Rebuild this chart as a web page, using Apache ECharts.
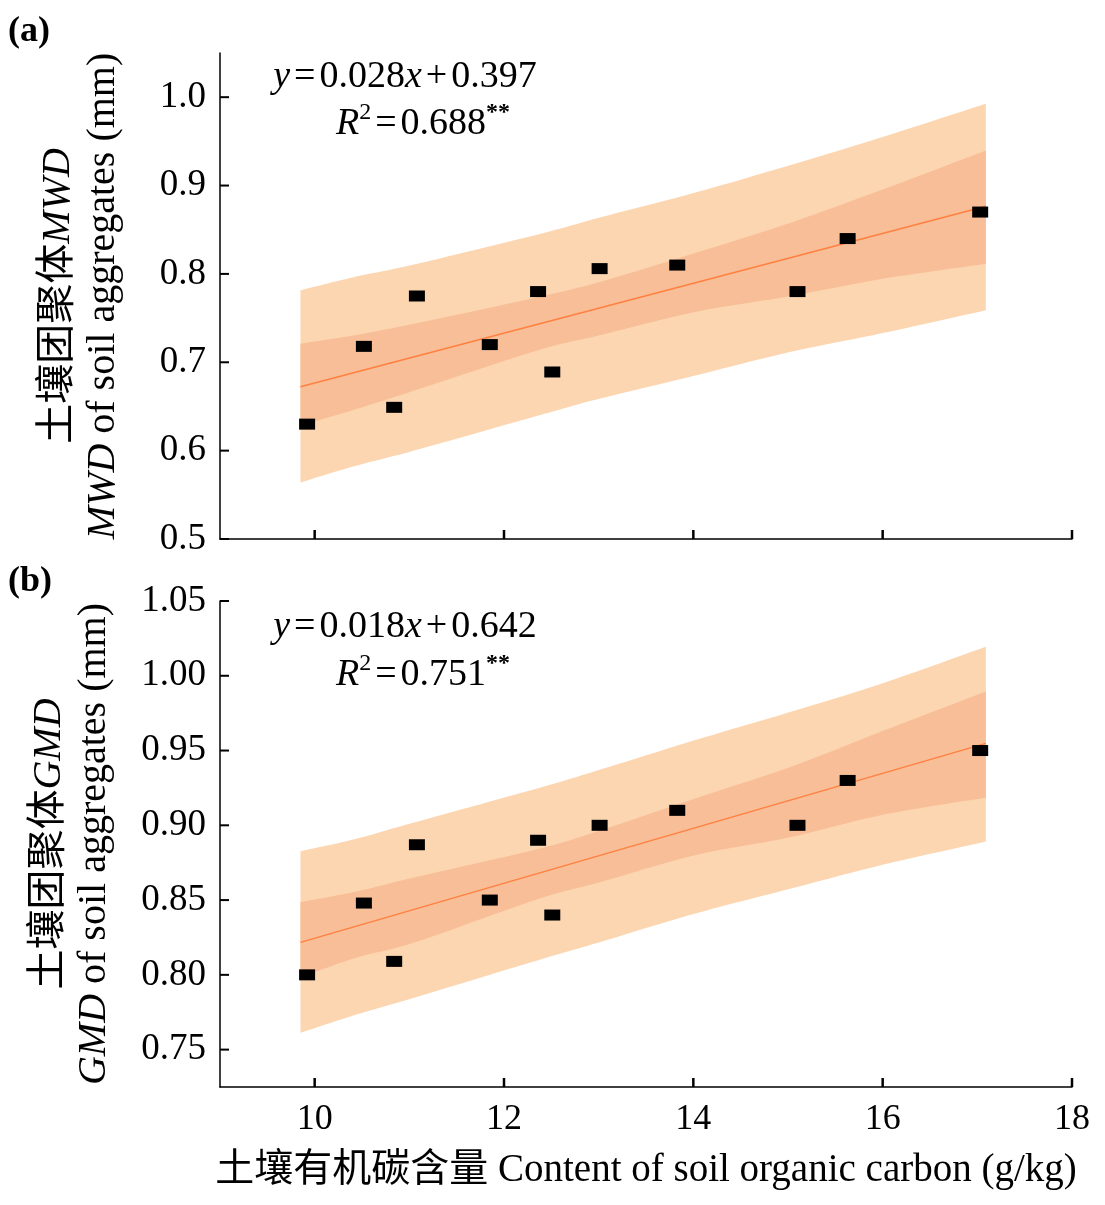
<!DOCTYPE html>
<html>
<head>
<meta charset="utf-8">
<script src="https://cdn.jsdelivr.net/npm/echarts@6/dist/echarts.min.js"></script>
<style>html,body{margin:0;padding:0;background:#fff}#c{width:1105px;height:1205px}</style>
</head>
<body>
<div id="c"></div>
<script>
// ---- data ----
const xTicks = [10, 12, 14, 16, 18];
const yTicksA = [0.5, 0.6, 0.7, 0.8, 0.9, 1.0];
const yTicksB = [0.75, 0.80, 0.85, 0.90, 0.95, 1.00, 1.05];

const socX = [9.92, 10.52, 10.84, 11.08, 11.85, 12.36, 12.51, 13.01, 13.83, 15.10, 15.63, 17.03];
const mwd  = [0.630, 0.718, 0.649, 0.775, 0.720, 0.780, 0.689, 0.806, 0.810, 0.780, 0.840, 0.870];
const gmd  = [0.800, 0.848, 0.809, 0.887, 0.850, 0.890, 0.840, 0.900, 0.910, 0.900, 0.930, 0.950];

const bandX = [9.85, 10.44, 11.06, 12.37, 13.01, 14.02, 15.02, 16.0, 17.09];
const mwdPredUp = [0.7815, 0.797, 0.8109, 0.845, 0.8638, 0.892, 0.923, 0.955, 0.9926];
const mwdPredLo = [0.564, 0.583, 0.6003, 0.640, 0.6588, 0.685, 0.7116, 0.733, 0.7588];
const mwdConfUp = [0.721, 0.731, 0.7438, 0.774, 0.7909, 0.8236, 0.8577, 0.8955, 0.9396];
const mwdConfLo = [0.6286, 0.647, 0.6682, 0.714, 0.7305, 0.757, 0.7747, 0.7945, 0.8114];

const gmdPredUp = [0.8827, 0.891, 0.9021, 0.925, 0.9371, 0.957, 0.9757, 0.995, 1.0194];
const gmdPredLo = [0.7612, 0.7734, 0.7849, 0.810, 0.8218, 0.841, 0.8575, 0.8736, 0.8891];
const gmdConfUp = [0.8487, 0.8557, 0.8653, 0.8843, 0.8965, 0.918, 0.9389, 0.963, 0.9895];
const gmdConfLo = [0.7983, 0.8115, 0.8218, 0.8509, 0.8619, 0.880, 0.892, 0.907, 0.9185];

const fitX = [9.85, 17.09];
const mwdFit = [0.6723, 0.8766];
const gmdFit = [0.8217, 0.9548];

const X_MIN = 9, X_MAX = 18;
const YA_MIN = 0.5, YA_MAX = 1.05;
const YB_MIN = 0.725, YB_MAX = 1.05;

// ---- styles ----
const SERIF = '"Liberation Serif", "Times New Roman", "Noto Sans CJK SC", serif';
const LIGHT = '#FCD6B0';
const DARK = '#F8BE97';
const LINE = '#FF8040';

// Catmull-Rom smoothing of a pixel polyline (rendering only)
function smoothPath(p) {
  const out = [];
  const n = p.length;
  for (let i = 0; i < n - 1; i++) {
    const p0 = p[Math.max(0, i - 1)], p1 = p[i], p2 = p[i + 1], p3 = p[Math.min(n - 1, i + 2)];
    const steps = 10;
    for (let s = 0; s < steps; s++) {
      const t = s / steps, t2 = t * t, t3 = t2 * t;
      const f = (a, b, c, d) => 0.5 * ((2 * b) + (-a + c) * t + (2 * a - 5 * b + 4 * c - d) * t2 + (-a + 3 * b - 3 * c + d) * t3);
      out.push([f(p0[0], p1[0], p2[0], p3[0]), f(p0[1], p1[1], p2[1], p3[1])]);
    }
  }
  out.push(p[n - 1]);
  return out;
}

function band(idx, up, lo, color, z) {
  return {
    type: 'custom', xAxisIndex: idx, yAxisIndex: idx, silent: true, z: z,
    data: bandX.map((x, i) => [x, lo[i], up[i]]),
    encode: { x: 0, y: [1, 2] },
    renderItem: function (params, api) {
      if (params.dataIndex !== 0) return null;
      const upper = bandX.map((x, i) => api.coord([x, up[i]]));
      const lower = bandX.map((x, i) => api.coord([x, lo[i]]));
      const pts = smoothPath(upper).concat(smoothPath(lower).reverse());
      return { type: 'polygon', shape: { points: pts }, style: { fill: color } };
    }
  };
}

// inward tick marks drawn at the tick values through the axis scales
function xTickSeries(idx, yMin) {
  return {
    type: 'custom', xAxisIndex: idx, yAxisIndex: idx, silent: true, z: 10, clip: false,
    data: xTicks.map(v => [v, yMin]),
    renderItem: function (params, api) {
      const p = api.coord([api.value(0), api.value(1)]);
      return { type: 'line', shape: { x1: p[0], y1: p[1], x2: p[0], y2: p[1] - 9 },
        style: { stroke: '#000', lineWidth: 2.5 } };
    }
  };
}
function yTickSeries(idx, ticks) {
  return {
    type: 'custom', xAxisIndex: idx, yAxisIndex: idx, silent: true, z: 10, clip: false,
    data: ticks.map(v => [X_MIN, v]),
    renderItem: function (params, api) {
      const p = api.coord([api.value(0), api.value(1)]);
      return { type: 'line', shape: { x1: p[0], y1: p[1], x2: p[0] + 9, y2: p[1] },
        style: { stroke: '#000', lineWidth: 2 } };
    }
  };
}

function xAxis(idx, showLabels) {
  const ax = {
    type: 'value', gridIndex: idx, min: X_MIN, max: X_MAX,
    axisLine: { show: true, onZero: false, lineStyle: { color: '#000', width: 1.5 } },
    axisTick: { show: false },
    axisLabel: { show: showLabels, customValues: xTicks, margin: 15, color: '#000', fontFamily: SERIF, fontSize: 36 },
    splitLine: { show: false }
  };
  if (showLabels) {
    ax.name = '土壤有机碳含量 Content of soil organic carbon (g/kg)';
    ax.nameLocation = 'middle';
    ax.nameGap = 64;
    ax.nameTextStyle = { color: '#000', fontFamily: SERIF, fontSize: 39 };
  }
  return ax;
}

function yAxis(idx, min, max, ticks, dec, abbr, gap) {
  return {
    type: 'value', gridIndex: idx, min: min, max: max,
    axisLine: { show: true, onZero: false, lineStyle: { color: '#000', width: 1.5 } },
    axisTick: { show: false },
    axisLabel: { customValues: ticks, margin: 14, color: '#000', fontFamily: SERIF, fontSize: 37,
      formatter: v => v.toFixed(dec) },
    splitLine: { show: false },
    name: '{n|土壤团聚体}{i|' + abbr + '}\n{i|' + abbr + '}{n| of soil aggregates (mm)}',
    nameLocation: 'middle', nameRotate: 90, nameGap: gap,
    nameTextStyle: {
      color: '#000', fontFamily: SERIF, fontSize: 40, lineHeight: 45,
      rich: {
        n: { fontFamily: SERIF, fontSize: 40, lineHeight: 45, color: '#000' },
        i: { fontFamily: SERIF, fontSize: 40, lineHeight: 45, fontStyle: 'italic', color: '#000' }
      }
    }
  };
}

const eqRich = {
  n: { fontFamily: SERIF, fontSize: 38, lineHeight: 42, color: '#000', verticalAlign: 'bottom' },
  e: { fontFamily: SERIF, fontSize: 38, lineHeight: 42, color: '#000', verticalAlign: 'bottom', padding: [0, 4, 0, 4] },
  i: { fontFamily: SERIF, fontSize: 38, lineHeight: 42, fontStyle: 'italic', color: '#000', verticalAlign: 'bottom' },
  s: { fontFamily: SERIF, fontSize: 24, lineHeight: 42, color: '#000', verticalAlign: 'top' },
  b: { fontFamily: SERIF, fontSize: 24, lineHeight: 42, color: '#000', fontWeight: 'bold', verticalAlign: 'top' }
};
function eqText(x, y, txt) {
  return { type: 'text', x: x, y: y, style: { text: txt, rich: eqRich, align: 'center', verticalAlign: 'middle', fill: '#000' }, z: 100 };
}

const chart = echarts.init(document.getElementById('c'), null, { renderer: 'canvas' });
chart.setOption({
  backgroundColor: '#fff',
  animation: false,
  grid: [
    { left: 220, top: 53, width: 852, height: 486 },
    { left: 220, top: 601, width: 852, height: 486 }
  ],
  xAxis: [xAxis(0, false), xAxis(1, true)],
  yAxis: [
    yAxis(0, YA_MIN, YA_MAX, yTicksA, 1, 'MWD', 94),
    yAxis(1, YB_MIN, YB_MAX, yTicksB, 2, 'GMD', 103)
  ],
  series: [
    band(0, mwdPredUp, mwdPredLo, LIGHT, 1),
    band(0, mwdConfUp, mwdConfLo, DARK, 2),
    { type: 'line', xAxisIndex: 0, yAxisIndex: 0, data: fitX.map((x, i) => [x, mwdFit[i]]),
      symbol: 'none', lineStyle: { color: LINE, width: 1.5 }, z: 3, silent: true },
    { type: 'scatter', xAxisIndex: 0, yAxisIndex: 0, data: socX.map((x, i) => [x, mwd[i]]),
      symbol: 'rect', symbolSize: [16, 11], itemStyle: { color: '#000', opacity: 1 }, z: 4 },
    xTickSeries(0, YA_MIN),
    yTickSeries(0, yTicksA),
    band(1, gmdPredUp, gmdPredLo, LIGHT, 1),
    band(1, gmdConfUp, gmdConfLo, DARK, 2),
    { type: 'line', xAxisIndex: 1, yAxisIndex: 1, data: fitX.map((x, i) => [x, gmdFit[i]]),
      symbol: 'none', lineStyle: { color: LINE, width: 1.5 }, z: 3, silent: true },
    { type: 'scatter', xAxisIndex: 1, yAxisIndex: 1, data: socX.map((x, i) => [x, gmd[i]]),
      symbol: 'rect', symbolSize: [16, 11], itemStyle: { color: '#000', opacity: 1 }, z: 4 },
    xTickSeries(1, YB_MIN),
    yTickSeries(1, yTicksB)
  ],
  graphic: [
    eqText(405, 75, '{i|y}{e|=}{n|0.028}{i|x}{e|+}{n|0.397}'),
    eqText(423, 122, '{i|R}{s|2}{e|=}{n|0.688}{b|**}'),
    eqText(405, 625, '{i|y}{e|=}{n|0.018}{i|x}{e|+}{n|0.642}'),
    eqText(423, 673, '{i|R}{s|2}{e|=}{n|0.751}{b|**}'),
    { type: 'text', x: 8, y: 32, style: { text: '(a)', font: 'bold 36px ' + SERIF, fill: '#000', verticalAlign: 'middle' } },
    { type: 'text', x: 8, y: 582, style: { text: '(b)', font: 'bold 36px ' + SERIF, fill: '#000', verticalAlign: 'middle' } }
  ]
});
</script>
</body>
</html>
